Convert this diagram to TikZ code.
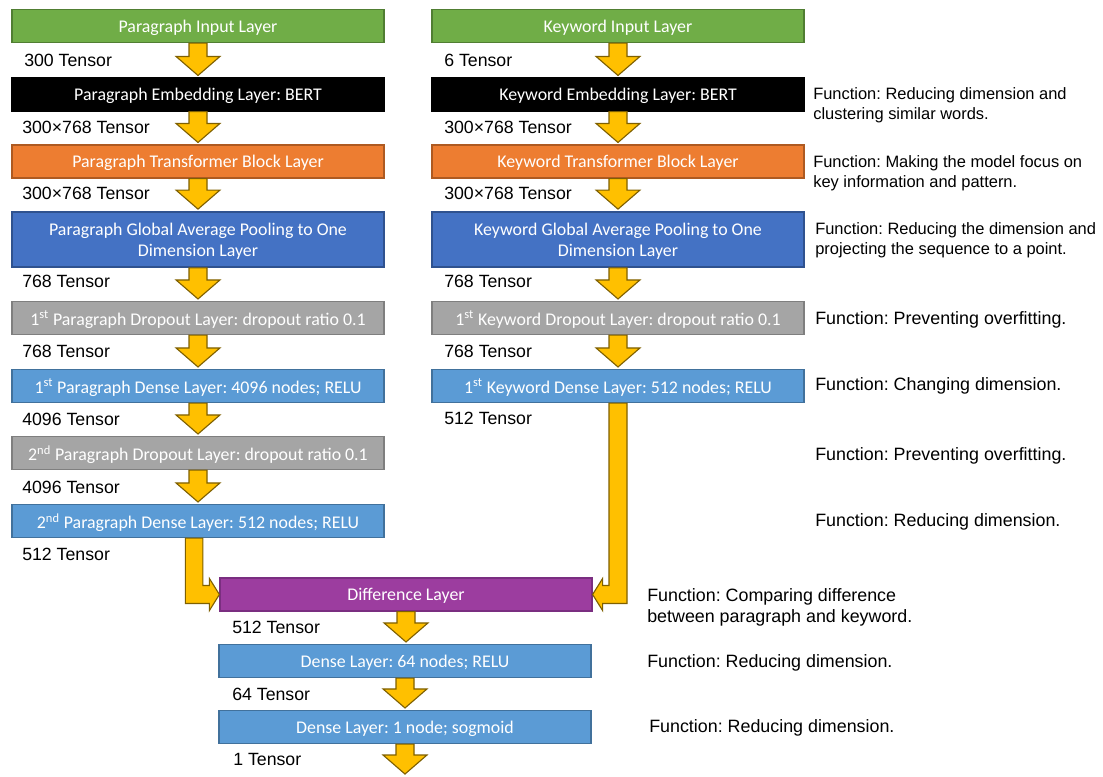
\documentclass[tikz,border=0pt]{standalone}
\usepackage{fontspec}
\setmainfont{Liberation Sans}
\newfontfamily\boxfont{Carlito}
\usetikzlibrary{calc}
\frenchspacing

\definecolor{inputgreen}{HTML}{70AD47}
\definecolor{inputedge}{HTML}{507E32}
\definecolor{transorange}{HTML}{ED7D31}
\definecolor{transedge}{HTML}{AE5A21}
\definecolor{poolblue}{HTML}{4472C4}
\definecolor{pooledge}{HTML}{2F528F}
\definecolor{dropgray}{HTML}{A5A5A5}
\definecolor{dropedge}{HTML}{7F7F7F}
\definecolor{denseblue}{HTML}{5B9BD5}
\definecolor{denseedge}{HTML}{41719C}
\definecolor{diffpurple}{HTML}{9C3D9F}
\definecolor{diffedge}{HTML}{7A2E80}
\definecolor{arrowyellow}{HTML}{FFC000}
\definecolor{arrowedge}{HTML}{7F6000}

\tikzset{
    layer/.style={draw, line width=0.8pt, text=white, align=center,
        font=\boxfont\fontsize{12.7}{15}\selectfont, text depth=0pt,
        minimum width=9.3cm, minimum height=0.825cm, inner sep=0pt},
    inlayer/.style={layer, fill=inputgreen, draw=inputedge},
    emblayer/.style={layer, fill=black, draw=black},
    translayer/.style={layer, fill=transorange, draw=transedge},
    poollayer/.style={layer, fill=poolblue, draw=pooledge, line width=1.3pt, minimum height=1.375cm},
    droplayer/.style={layer, fill=dropgray, draw=dropedge},
    denselayer/.style={layer, fill=denseblue, draw=denseedge},
    difflayer/.style={layer, fill=diffpurple, draw=diffedge},
    tensor/.style={anchor=west, inner sep=0pt, font=\fontsize{12.6}{15}\selectfont},
    note/.style={anchor=west, inner sep=0pt, align=left, yshift=-1.4pt,
        font=\fontsize{12.7}{15}\selectfont},
    smallnote/.style={note, font=\fontsize{11.7}{14.2}\selectfont},
    blockarrow/.style={fill=arrowyellow, draw=arrowedge, line width=0.8pt, line join=miter},
}

% straight block arrow between two points
\newcommand{\flowarrow}[2]{%
    \draw[blockarrow] let \p1=(#1), \p2=(#2) in
        (\x1-6.4pt,\y1) -- (\x1+6.4pt,\y1) -- (\x1+6.4pt,\y2+14.9pt)
        -- (\x1+15.6pt,\y2+14.9pt) -- (\x1,\y2+1.4pt) -- (\x1-15.6pt,\y2+14.9pt)
        -- (\x1-6.4pt,\y2+14.9pt) -- cycle;}

\begin{document}
\begin{tikzpicture}[x=0.025cm, y=-0.025cm]
    \useasboundingbox (0,0) rectangle (1103,776);

    % paragraph branch
    \node[inlayer] (pin) at (198,26) {Paragraph Input Layer};
    \node[emblayer] (pemb) at (198,94.5) {Paragraph Embedding Layer: BERT};
    \node[translayer] (ptrans) at (198,161.5) {Paragraph Transformer Block Layer};
    \node[poollayer] (ppool) at (198,239.5) {Paragraph Global Average Pooling to One\\Dimension Layer};
    \node[droplayer] (pdrop1) at (198,318) {1\textsuperscript{st} Paragraph Dropout Layer: dropout ratio 0.1};
    \node[denselayer] (pdense1) at (198,386) {1\textsuperscript{st} Paragraph Dense Layer: 4096 nodes; RELU};
    \node[droplayer] (pdrop2) at (198,453) {2\textsuperscript{nd} Paragraph Dropout Layer: dropout ratio 0.1};
    \node[denselayer] (pdense2) at (198,521) {2\textsuperscript{nd} Paragraph Dense Layer: 512 nodes; RELU};

    % keyword branch
    \node[inlayer] (kin) at (618,26) {Keyword Input Layer};
    \node[emblayer] (kemb) at (618,94.5) {Keyword Embedding Layer: BERT};
    \node[translayer] (ktrans) at (618,161.5) {Keyword Transformer Block Layer};
    \node[poollayer] (kpool) at (618,239.5) {Keyword Global Average Pooling to One\\Dimension Layer};
    \node[droplayer] (kdrop1) at (618,318) {1\textsuperscript{st} Keyword Dropout Layer: dropout ratio 0.1};
    \node[denselayer] (kdense1) at (618,386) {1\textsuperscript{st} Keyword Dense Layer: 512 nodes; RELU};

    % merged part
    \node[difflayer] (diff) at (406,594.5) {Difference Layer};
    \node[denselayer] (dense64) at (405,661) {Dense Layer: 64 nodes; RELU};
    \node[denselayer] (dense1) at (405,727) {Dense Layer: 1 node; sogmoid};
    \coordinate (out) at (405,776);

    % tensor sizes
    \node[tensor] (tp1) at (24,60) {300 Tensor};
    \node[tensor] (tp2) at (22,127) {300×768 Tensor};
    \node[tensor] (tp3) at (22,193) {300×768 Tensor};
    \node[tensor] (tp4) at (22,281) {768 Tensor};
    \node[tensor] (tp5) at (22,351) {768 Tensor};
    \node[tensor] (tp6) at (22,419) {4096 Tensor};
    \node[tensor] (tp7) at (22,487) {4096 Tensor};
    \node[tensor] (tp8) at (22,554) {512 Tensor};
    \node[tensor] (tk1) at (444,60) {6 Tensor};
    \node[tensor] (tk2) at (444,127) {300×768 Tensor};
    \node[tensor] (tk3) at (444,193) {300×768 Tensor};
    \node[tensor] (tk4) at (444,281) {768 Tensor};
    \node[tensor] (tk5) at (444,351) {768 Tensor};
    \node[tensor] (tk6) at (444,418) {512 Tensor};
    \node[tensor] (td1) at (232,627) {512 Tensor};
    \node[tensor] (td2) at (232,694) {64 Tensor};
    \node[tensor] (td3) at (233,759) {1 Tensor};

    % what each layer does
    \node[smallnote] (f1) at (813,103) {Function: Reducing dimension and\\clustering similar words.};
    \node[smallnote] (f2) at (813,171) {Function: Making the model focus on\\key information and pattern.};
    \node[smallnote] (f3) at (815,238) {Function: Reducing the dimension and\\projecting the sequence to a point.};
    \node[note] (f4) at (815,318) {Function: Preventing overfitting.};
    \node[note] (f5) at (815,384) {Function: Changing dimension.};
    \node[note] (f6) at (815,454) {Function: Preventing overfitting.};
    \node[note] (f7) at (815,520) {Function: Reducing dimension.};
    \node[note] (f8) at (647,605.5) {Function: Comparing difference\\between paragraph and keyword.};
    \node[note] (f9) at (647,661) {Function: Reducing dimension.};
    \node[note] (f10) at (649,726) {Function: Reducing dimension.};

    % arrows
    \flowarrow{pin.south}{pemb.north}
    \flowarrow{pemb.south}{ptrans.north}
    \flowarrow{ptrans.south}{ppool.north}
    \flowarrow{ppool.south}{pdrop1.north}
    \flowarrow{pdrop1.south}{pdense1.north}
    \flowarrow{pdense1.south}{pdrop2.north}
    \flowarrow{pdrop2.south}{pdense2.north}
    \flowarrow{kin.south}{kemb.north}
    \flowarrow{kemb.south}{ktrans.north}
    \flowarrow{ktrans.south}{kpool.north}
    \flowarrow{kpool.south}{kdrop1.north}
    \flowarrow{kdrop1.south}{kdense1.north}
    \flowarrow{diff.south}{dense64.north}
    \flowarrow{dense64.south}{dense1.north}
    \flowarrow{dense1.south}{out}

    % bent arrows into the difference layer
    \draw[blockarrow] let \p1=(pdense2.south), \p2=(diff.west) in
        (\x1-9pt,\y1) -- (\x1+3.5pt,\y1) -- (\x1+3.5pt,\y2+6.4pt) -- (\x2-7.1pt,\y2+6.4pt)
        -- (\x2-7.1pt,\y2+11.4pt) -- (\x2,\y2) -- (\x2-7.1pt,\y2-11.4pt)
        -- (\x2-7.1pt,\y2-6.4pt) -- (\x1-9pt,\y2-6.4pt) -- cycle;
    \draw[blockarrow] let \p1=(kdense1.south), \p2=(diff.east) in
        (\x1+6.4pt,\y1) -- (\x1-6.4pt,\y1) -- (\x1-6.4pt,\y2+6.4pt) -- (\x2+7.1pt,\y2+6.4pt)
        -- (\x2+7.1pt,\y2+11.4pt) -- (\x2,\y2) -- (\x2+7.1pt,\y2-11.4pt)
        -- (\x2+7.1pt,\y2-6.4pt) -- (\x1+6.4pt,\y2-6.4pt) -- cycle;
\end{tikzpicture}
\end{document}
